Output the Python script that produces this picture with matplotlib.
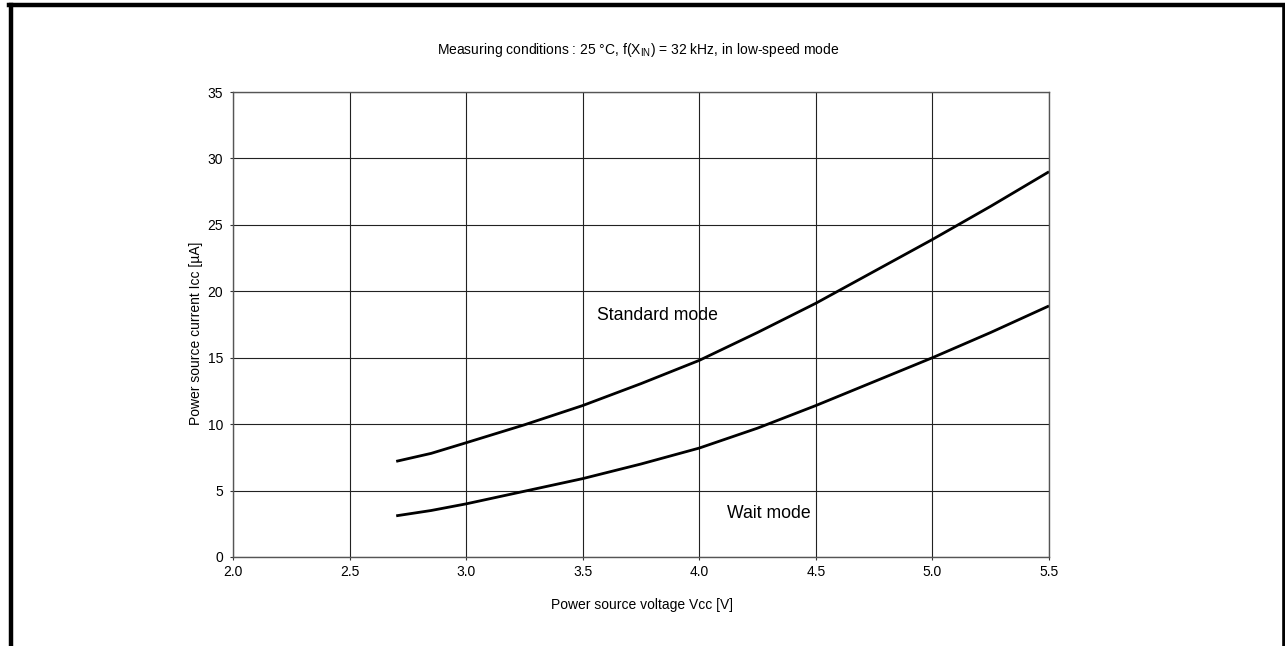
import matplotlib
matplotlib.use("Agg")
import matplotlib.pyplot as plt
from matplotlib.lines import Line2D
import numpy as np

plt.rcParams['font.family'] = ['Liberation Sans', 'DejaVu Sans']

voltage = [2.7, 2.85, 3.0, 3.25, 3.5, 3.75, 4.0, 4.25, 4.5, 4.75, 5.0, 5.25, 5.5]
standard_mode = [7.2, 7.8, 8.6, 9.95, 11.4, 13.05, 14.8, 16.9, 19.1, 21.5, 23.9, 26.4, 29.0]
wait_mode = [3.1, 3.5, 4.0, 4.95, 5.9, 7.0, 8.2, 9.7, 11.4, 13.2, 15.0, 16.9, 18.9]

x_ticks = [2.0, 2.5, 3.0, 3.5, 4.0, 4.5, 5.0, 5.5]
y_ticks = [0, 5, 10, 15, 20, 25, 30, 35]

W, H = 1285, 646
fig = plt.figure(figsize=(W / 100, H / 100), dpi=100)
fig.patch.set_facecolor('white')

left, right, top, bottom = 233, 1049, 92, 557
ax = fig.add_axes([left / W, 1 - bottom / H, (right - left) / W, (bottom - top) / H])

ax.plot(voltage, standard_mode, color='black', lw=2.0, solid_capstyle='butt', solid_joinstyle='round')
ax.plot(voltage, wait_mode, color='black', lw=2.0, solid_capstyle='butt', solid_joinstyle='round')

ax.set_xlim(2.0, 5.5)
ax.set_ylim(0, 35)
ax.set_xticks(x_ticks)
ax.set_xticklabels([f"{v:.1f}" for v in x_ticks])
ax.set_yticks(y_ticks)
ax.set_yticklabels([str(v) for v in y_ticks])
ax.tick_params(axis='both', length=2, width=0.8, color='#333333', labelsize=10)
ax.tick_params(axis='y', pad=5.2)
ax.tick_params(axis='x', pad=3.8)
ax.grid(True, color='#222222', lw=0.8)
for s in ax.spines.values():
    s.set_color('#555555')
    s.set_linewidth(1.0)

ax.set_xlabel("Power source voltage Vcc [V]", fontsize=10)
ax.xaxis.set_label_coords((642 - left) / (right - left), (bottom - 605) / (bottom - top))
ax.xaxis.label.set_va('center')
ax.set_ylabel("Power source current Icc [\u00b5A]", fontsize=10)
ax.yaxis.set_label_coords((196 - left) / (right - left), (bottom - 333.5) / (bottom - top))
ax.yaxis.label.set_va('center')
ax.yaxis.label.set_ha('center')

ax.text(3.56, 18.2, "Standard mode", fontsize=12.7, va='center', ha='left')
ax.text(4.12, 3.3, "Wait mode", fontsize=12.7, va='center', ha='left')

fig.text(638.5 / W, 1 - 50 / H,
         r"Measuring conditions : 25 °C, f(X$_{\mathregular{IN}}$) = 32 kHz, in low-speed mode",
         fontsize=10, ha='center', va='center')

# outer frame (left, top, right)
fig.add_artist(Line2D([11 / W, 11 / W], [0, 1 - 5 / H], transform=fig.transFigure, color='black', lw=3.2))
fig.add_artist(Line2D([9 / W, 1284 / W], [1 - 5 / H, 1 - 5 / H], transform=fig.transFigure, color='black', lw=3.2))
fig.add_artist(Line2D([1283.5 / W, 1283.5 / W], [0, 1 - 5 / H], transform=fig.transFigure, color='black', lw=2.6))

fig.savefig("out.png", dpi=100, facecolor='white')
